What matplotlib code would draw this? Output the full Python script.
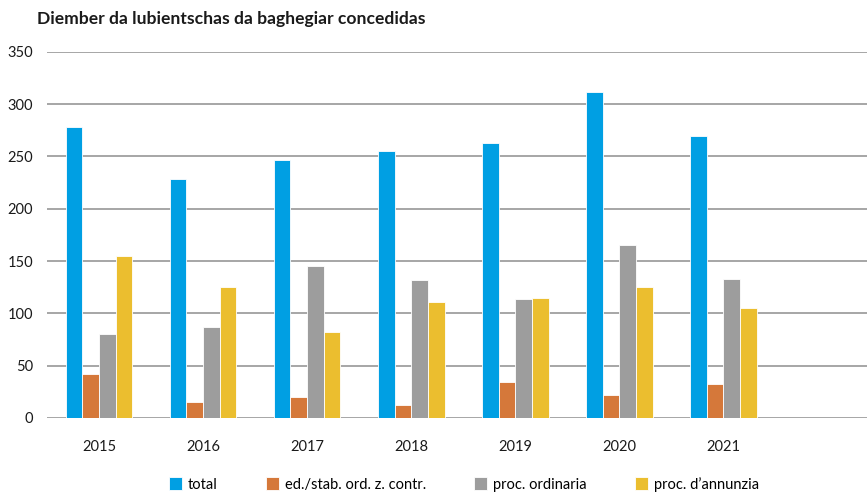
import matplotlib
matplotlib.use("Agg")
import matplotlib.pyplot as plt
import numpy as np

plt.rcParams['font.family'] = ['Lato', 'DejaVu Sans']

years = ["2015", "2016", "2017", "2018", "2019", "2020", "2021"]
series_names = ["total", "ed./stab. ord. z. contr.", "proc. ordinaria", "proc. d\u2019annunzia"]
total = [278, 228, 247, 255, 263, 312, 270]
ed_stab = [42, 15, 20, 12, 34, 22, 32]
proc_ord = [80, 87, 145, 132, 114, 165, 133]
proc_ann = [155, 125, 82, 111, 115, 125, 105]
colors = ["#009FE3", "#D5783A", "#9D9D9D", "#EBBE2F"]

fig = plt.figure(figsize=(8.67, 4.97), dpi=100)
ax = fig.add_axes([0.0542, 0.1594, 0.9458, 0.736])

x = np.arange(len(years))
w = 0.16
data = [total, ed_stab, proc_ord, proc_ann]
for i, (vals, name, c) in enumerate(zip(data, series_names, colors)):
    ax.bar(x + (i - 1.5) * w, vals, width=w, color=c, label=name,
           edgecolor="white", linewidth=0.6, zorder=3)

ax.set_ylim(0, 350)
ax.set_yticks(range(0, 351, 50))
ax.set_xlim(-0.5, 7.38)
ax.set_xticks(x)
ax.set_xticklabels(years)
ax.grid(axis="y", color="#A6A6A6", linewidth=1.4, zorder=0)
for s in ax.spines.values():
    s.set_visible(False)
ax.tick_params(axis="both", length=0, labelsize=10.5, colors="#1a1a1a")
ax.tick_params(axis="x", pad=16)
ax.tick_params(axis="y", pad=10)

fig.text(0.043, 0.962, "Diember da lubientschas da baghegiar concedidas",
         fontsize=12.6, fontweight="bold", color="#1a1a1a", va="center")

leg = fig.legend(loc="center", bbox_to_anchor=(0.535, 0.026), ncol=4, frameon=False,
                 fontsize=10.5, handlelength=0.9, handleheight=0.9,
                 handletextpad=0.4, columnspacing=3.3)

fig.savefig("out.png", dpi=100)
